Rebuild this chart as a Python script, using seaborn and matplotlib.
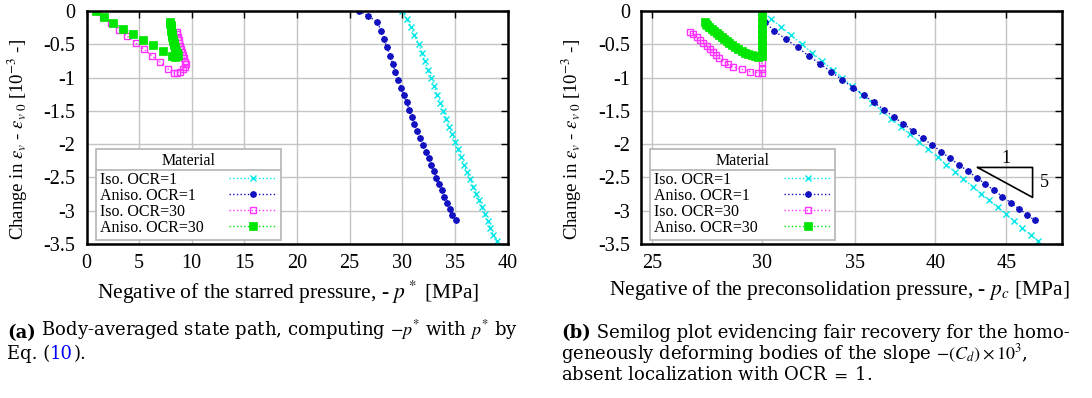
import matplotlib
matplotlib.use("Agg")
import matplotlib.pyplot as plt
import seaborn as sns
from matplotlib.lines import Line2D
from matplotlib.ticker import FixedLocator, FixedFormatter, NullLocator
from matplotlib.transforms import IdentityTransform

# ---------------- data ----------------
series_labels = ["Iso. OCR=1", "Aniso. OCR=1", "Iso. OCR=30", "Aniso. OCR=30"]

# Iso. OCR=1
y_iso1 = [0, -0.12, -0.235, -0.365, -0.495, -0.625, -0.755, -0.886, -1.006, -1.13,
          -1.256, -1.376, -1.50, -1.617, -1.737, -1.85, -1.967, -2.08, -2.197, -2.307,
          -2.417, -2.52, -2.638, -2.743, -2.843, -2.948, -3.048, -3.153, -3.258, -3.36, -3.45]
pstar_iso1 = [30.0, 30.42, 30.83, 31.15, 31.56, 31.88, 32.13, 32.45, 32.76, 33.02,
              33.33, 33.62, 33.90, 34.19, 34.44, 34.73, 35.04, 35.33, 35.61, 35.87,
              36.15, 36.44, 36.72, 37.01, 37.29, 37.58, 37.83, 38.12, 38.37, 38.65, 38.97]
pc_iso1 = [30.00, 30.48, 30.95, 31.49, 32.04, 32.59, 33.16, 33.74, 34.28, 34.85,
           35.44, 36.01, 36.60, 37.18, 37.77, 38.34, 38.94, 39.53, 40.15, 40.74,
           41.34, 41.91, 42.57, 43.16, 43.74, 44.35, 44.94, 45.58, 46.21, 46.84, 47.41]

# Aniso. OCR=1
y_aniso1 = [0, -0.075, -0.17, -0.30, -0.425, -0.545, -0.676, -0.791, -0.911, -1.036,
            -1.151, -1.266, -1.371, -1.482, -1.597, -1.697, -1.807, -1.907, -2.012, -2.112,
            -2.212, -2.312, -2.407, -2.502, -2.598, -2.693, -2.788, -2.878, -2.968, -3.058, -3.143]
pstar_aniso1 = [25.89, 26.78, 27.63, 28.01, 28.27, 28.55, 28.84, 29.09, 29.34, 29.63,
                29.91, 30.14, 30.42, 30.67, 30.93, 31.15, 31.43, 31.72, 31.97, 32.26,
                32.51, 32.73, 32.99, 33.24, 33.49, 33.75, 34.00, 34.25, 34.51, 34.76, 35.08]
pc_aniso1 = [30.00, 30.02, 30.17, 30.62, 31.23, 31.83, 32.42, 33.03, 33.64, 34.28,
             34.91, 35.55, 36.12, 36.73, 37.37, 37.94, 38.57, 39.16, 39.78, 40.39,
             40.99, 41.62, 42.22, 42.83, 43.45, 44.08, 44.71, 45.32, 45.94, 46.57, 47.16]

# Iso. OCR=30
y_iso30 = [0, -0.085, -0.185, -0.28, -0.38, -0.48, -0.575, -0.676, -0.771, -0.871,
           -0.93, -0.926, -0.911, -0.876, -0.841, -0.80, -0.761, -0.71, -0.66, -0.61,
           -0.566, -0.52, -0.475, -0.435, -0.395, -0.35, -0.31]
pstar_iso30 = [0.90, 1.60, 2.33, 3.09, 3.88, 4.67, 5.46, 6.22, 7.01, 7.74,
               8.30, 8.60, 8.85, 9.17, 9.34, 9.41, 9.40, 9.31, 9.20, 9.10,
               9.01, 8.92, 8.82, 8.75, 8.69, 8.62, 8.56]
pc_iso30 = [30.0, 30.0, 30.0, 30.0, 30.0, 30.0, 30.0, 30.0, 30.0, 30.0,
            30.0, 29.83, 29.42, 29.02, 28.62, 28.35, 28.15, 27.96, 27.81, 27.66,
            27.53, 27.38, 27.23, 27.08, 26.93, 26.78, 26.62]

# Aniso. OCR=30
y_aniso30 = [0, -0.085, -0.175, -0.265, -0.35, -0.43, -0.515, -0.605, -0.676,
             -0.686, -0.673, -0.66, -0.643, -0.626, -0.60, -0.575, -0.542, -0.51, -0.48,
             -0.45, -0.422, -0.395, -0.365, -0.335, -0.305, -0.275, -0.242, -0.21, -0.19, -0.17]
pstar_aniso30 = [0.90, 1.63, 2.55, 3.47, 4.45, 5.34, 6.29, 7.24, 8.12,
                 8.45, 8.58, 8.66, 8.61, 8.56, 8.50, 8.45, 8.39, 8.33, 8.28,
                 8.24, 8.20, 8.16, 8.12, 8.09, 8.06, 8.04, 8.01, 7.99, 7.97, 7.96]
pc_aniso30 = [30.0, 30.0, 30.0, 30.0, 30.0, 30.0, 30.0, 30.0, 30.0,
              29.83, 29.66, 29.50, 29.34, 29.18, 29.01, 28.85, 28.70, 28.54, 28.42,
              28.31, 28.19, 28.07, 27.95, 27.84, 27.72, 27.61, 27.50, 27.38, 27.33, 27.28]

# slope triangle annotation (right panel)
tri_x = [42.9, 47.0, 47.0, 42.9]
tri_y = [-2.35, -2.35, -2.80, -2.35]
tri_labels = ["1", "5"]

yticks = [0, -0.5, -1, -1.5, -2, -2.5, -3, -3.5]
ytick_labels = ["0", "-0.5", "-1", "-1.5", "-2", "-2.5", "-3", "-3.5"]
xticks_a = [0, 5, 10, 15, 20, 25, 30, 35, 40]
xticks_b = [25, 30, 35, 40, 45]

# ---------------- style ----------------
sns.set_theme(style="white")
plt.rcParams["font.family"] = ["Liberation Serif", "DejaVu Serif"]
plt.rcParams["mathtext.fontset"] = "stix"
plt.rcParams["text.color"] = "black"
plt.rcParams["axes.labelcolor"] = "black"
plt.rcParams["xtick.color"] = "black"
plt.rcParams["ytick.color"] = "black"

C_CYAN = "#00e8e8"
C_BLUE = "#1212c0"
C_MAG = "#ff33ff"
C_GREEN = "#00e600"

styles = [
    dict(color=C_CYAN, marker="x", markersize=5, markeredgecolor=C_CYAN,
         markeredgewidth=1.0),
    dict(color=C_BLUE, marker=(8, 2, 0), markersize=4.6, markeredgecolor=C_BLUE,
         markeredgewidth=1.3),
    dict(color=C_MAG, marker="s", markersize=5, markerfacecolor="none",
         markeredgecolor=C_MAG, markeredgewidth=1.0),
    dict(color=C_GREEN, marker="s", markersize=5.2, markerfacecolor=C_GREEN,
         markeredgecolor=C_GREEN, markeredgewidth=0.5),
]

W, H = 1092, 398
fig = plt.figure(figsize=(W / 100, H / 100), dpi=100)
ax_a = fig.add_axes([86.5 / W, 1 - 244 / H, 421 / W, 233 / H])
ax_b = fig.add_axes([641 / W, 1 - 244 / H, 421 / W, 233 / H])

data_a = [(pstar_iso1, y_iso1), (pstar_aniso1, y_aniso1),
          (pstar_iso30, y_iso30), (pstar_aniso30, y_aniso30)]
data_b = [(pc_iso1, y_iso1), (pc_aniso1, y_aniso1),
          (pc_iso30, y_iso30), (pc_aniso30, y_aniso30)]

for ax, data in ((ax_a, data_a), (ax_b, data_b)):
    for (xs, ys), lab, st in zip(data, series_labels, styles):
        sns.lineplot(x=xs, y=ys, ax=ax, sort=False, estimator=None,
                     linestyle=":", linewidth=1.0, label=lab, **st)

TICK_FS = 14.5
LABEL_FS = 15.5
YLABEL_FS = 13.5
ylabel = r"Change in $\epsilon_v$ - $\epsilon_{v\ 0}$ [10$^{-3}$ -]"

for ax in (ax_a, ax_b):
    ax.set_ylim(-3.5, 0)
    ax.set_yticks(yticks)
    ax.set_yticklabels(ytick_labels)
    ax.grid(True, color="#c4c4c4", linewidth=1.0)
    ax.set_axisbelow(True)
    for sp in ax.spines.values():
        sp.set_linewidth(1.8)
        sp.set_color("black")
        sp.set_visible(True)
    ax.tick_params(direction="in", length=5, width=1.0, top=True, right=True,
                   labelsize=TICK_FS)
    ax.tick_params(axis="y", pad=8)
    ax.tick_params(axis="x", pad=7)
    ax.set_ylabel(ylabel, fontsize=YLABEL_FS)

ax_a.yaxis.set_label_coords(-0.134, 0.45)
ax_b.yaxis.set_label_coords(-0.136, 0.45)

ax_a.set_xlim(0, 40)
ax_a.set_xticks(xticks_a)
ax_a.set_xticklabels([str(v) for v in xticks_a])
ax_a.set_xlabel(r"Negative of the starred pressure, - $p^*$ [MPa]", fontsize=LABEL_FS)
ax_a.xaxis.set_label_coords(0.479, -0.148)

ax_b.set_xscale("log")
ax_b.set_xlim(24.55, 49.35)
ax_b.xaxis.set_major_locator(FixedLocator(xticks_b))
ax_b.xaxis.set_major_formatter(FixedFormatter([str(v) for v in xticks_b]))
ax_b.xaxis.set_minor_locator(NullLocator())
ax_b.set_xlabel(r"Negative of the preconsolidation pressure, - $p_c$ [MPa]", fontsize=LABEL_FS)
ax_b.xaxis.set_label_coords(0.47, -0.148)

# slope triangle
ax_b.plot(tri_x, tri_y, color="black", linewidth=1.2)
ax_b.text(45.0, -2.21, tri_labels[0], fontsize=13, ha="center", va="center")
ax_b.text(47.55, -2.57, tri_labels[1], fontsize=13, ha="left", va="center")

# legends
LEG_FS = 11.5
legends = []
for ax in (ax_a, ax_b):
    h, l = ax.get_legend_handles_labels()
    leg = ax.legend(h, l, title="Material", loc="lower left",
                    bbox_to_anchor=(0.022, 0.017), borderaxespad=0,
                    markerfirst=False, fontsize=LEG_FS, title_fontsize=LEG_FS,
                    frameon=True, fancybox=False, framealpha=1,
                    edgecolor="#b4b4b4", labelspacing=0.0, handlelength=3.0,
                    handletextpad=1.6, borderpad=0.25)
    leg.get_frame().set_linewidth(1.2)
    legends.append(leg)

fig.canvas.draw()
r = fig.canvas.get_renderer()
for leg in legends:
    texts = leg.get_texts()
    widths = [t.get_window_extent(r).width for t in texts]
    wmax = max(widths)
    col = leg._legend_handle_box.get_children()[0]
    rows = col.get_children()
    base = leg.handletextpad * leg._fontsize
    for row, w in zip(rows, widths):
        row.sep = base + (wmax - w) * 72.0 / fig.dpi
    leg._legend_box.sep = 2.5
fig.canvas.draw()
for leg in legends:
    fb = leg.get_frame().get_window_extent(r)
    tb = leg.get_title().get_window_extent(r)
    t0 = leg.get_texts()[0].get_window_extent(r)
    yline = 0.5 * (tb.y0 + t0.y1)
    fig.add_artist(Line2D([fb.x0, fb.x1], [yline, yline], transform=IdentityTransform(),
                          color="#b4b4b4", linewidth=1.2))

# captions
cap = fig.add_axes([0, 0, 1, 1])
cap.set_axis_off()
cap.set_xlim(0, W)
cap.set_ylim(H, 0)
CAP_FS = 13
CAP_FONT = ["DejaVu Serif"]

def chain(parts, x, y):
    prev = None
    for txt, kw in parts:
        if prev is None:
            prev = cap.text(x, y, txt, fontsize=CAP_FS, family=CAP_FONT,
                            ha="left", va="baseline", **kw)
        else:
            prev = cap.annotate(txt, xy=(1, 0), xycoords=prev, xytext=(0, 0),
                                textcoords="offset points", ha="left", va="bottom",
                                fontsize=CAP_FS, family=CAP_FONT, **kw)
    return prev

chain([("(a)", dict(fontweight="bold")),
       (r" Body-averaged state path, computing $-p^{*}$ with $p^{*}$ by", {})], 7, 338)
chain([("Eq. (", {}), ("10", dict(color="#0000ff")), (").", {})], 7, 359)
chain([("(b)", dict(fontweight="bold")),
       (" Semilog plot evidencing fair recovery for the homo-", {})], 561, 338)
cap.text(561, 359, r"geneously deforming bodies of the slope $-(C_d)\times 10^3$,",
         fontsize=CAP_FS, family=CAP_FONT, ha="left", va="baseline")
cap.text(561, 380, r"absent localization with OCR $=$ 1.", fontsize=CAP_FS,
         family=CAP_FONT, ha="left", va="baseline")

fig.savefig("out.png", dpi=100)
